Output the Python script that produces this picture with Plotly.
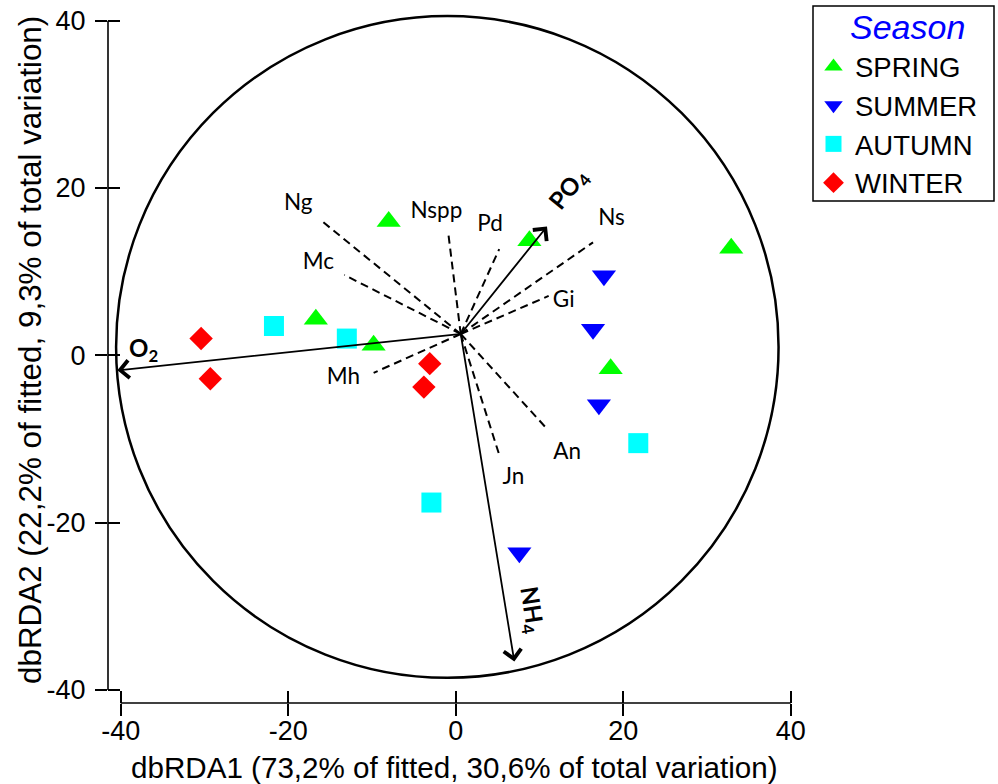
import plotly.graph_objects as go

# ---------------- data ----------------
seasons = ["SPRING", "SUMMER", "AUTUMN", "WINTER"]
spring_x = [-16.7, -9.8, -8.0, 8.8, 18.5, 32.9]
spring_y = [4.3, 1.2, 16.0, 13.7, -1.6, 12.8]
summer_x = [17.7, 16.4, 17.1, 7.6]
summer_y = [9.5, 3.1, -5.9, -23.6]
autumn_x = [-21.7, -13.0, -2.9, 21.8]
autumn_y = [3.5, 2.0, -17.6, -10.5]
winter_x = [-30.4, -29.3, -3.1, -3.8]
winter_y = [2.0, -2.8, -1.0, -3.8]

# species vectors (dashed)
species = ["Ng", "Mc", "Nspp", "Pd", "Ns", "Gi", "Mh", "An", "Jn"]
sp_end_x = [-15.8, -13.3, -0.9, 5.2, 16.4, 11.1, -9.8, 11.0, 5.2]
sp_end_y = [15.9, 9.6, 14.7, 12.7, 13.5, 7.1, -2.1, -8.9, -11.9]
sp_lab_x = [-18.8, -16.4, -2.3, 4.1, 18.6, 12.9, -13.4, 13.3, 6.9]
sp_lab_y = [18.0, 11.0, 17.1, 15.5, 16.3, 6.4, -2.8, -11.7, -14.7]

# environmental vectors (solid arrows)
env_labels = ["O<sub>2</sub>", "PO<sub>4</sub>", "NH<sub>4</sub>"]
env_x = [-40.4, 10.9, 7.0]
env_y = [-1.8, 15.4, -36.6]
env_lab_x = [-37.3, 13.5, 9.0]
env_lab_y = [0.7, 19.8, -30.4]
env_lab_angle = [0, -51, 81]

vec_origin = (0.6, 2.55)
circle_center = (-1.0, 1.0)
circle_radius = 39.55

tick_vals = [-40, -20, 0, 20, 40]
tick_text = ["-40", "-20", "0", "20", "40"]

x_title = "dbRDA1 (73,2% of fitted, 30,6% of total variation)"
y_title = "dbRDA2 (22,2% of fitted, 9,3% of total variation)"
legend_title = "Season"

# ---------------- layout geometry ----------------
W, H = 998, 784
XDOM = [108 / W, 800 / W]
YDOM = [1 - 703 / H, 1 - 10 / H]
XR = [-41.516, 41.110]
YR = [-41.561, 41.274]

AX_FONT = "Liberation Sans, Arial, sans-serif"
LAB_FONT = "Lato, Carlito, Calibri, sans-serif"

fig = go.Figure()

# dashed species lines
lx, ly = [], []
for ex, ey in zip(sp_end_x, sp_end_y):
    lx += [vec_origin[0], ex, None]
    ly += [vec_origin[1], ey, None]
fig.add_trace(go.Scatter(
    x=lx, y=ly, mode="lines", xaxis="x2", yaxis="y2",
    line=dict(color="black", width=2, dash="8px,5px"),
    showlegend=False, hoverinfo="skip"))

fig.add_trace(go.Scatter(
    x=sp_lab_x, y=sp_lab_y, mode="text", text=species,
    textposition="middle center",
    textfont=dict(family=LAB_FONT, size=22.5, color="black"),
    showlegend=False, hoverinfo="skip"))

styles = [
    ("SPRING", spring_x, spring_y, "triangle-up", "#00FF00", 21),
    ("SUMMER", summer_x, summer_y, "triangle-down", "#0000FF", 21),
    ("AUTUMN", autumn_x, autumn_y, "square", "#00FFFF", 20),
    ("WINTER", winter_x, winter_y, "diamond", "#FF0000", 18),
]
for name, xs, ys, sym, col, sz in styles:
    fig.add_trace(go.Scatter(
        x=xs, y=ys, mode="markers", name=name,
        marker=dict(symbol=sym, color=col, size=sz, line=dict(width=0))))

# circle
fig.add_shape(type="circle", xref="x", yref="y",
              x0=circle_center[0] - circle_radius, x1=circle_center[0] + circle_radius,
              y0=circle_center[1] - circle_radius, y1=circle_center[1] + circle_radius,
              line=dict(color="black", width=2.5), layer="below")

# axis lines
fig.add_shape(type="line", xref="x", yref="y domain", x0=tick_vals[0], x1=tick_vals[-1],
              y0=0, y1=0, line=dict(color="black", width=1.6))
fig.add_shape(type="line", xref="x domain", yref="y", x0=0, x1=0,
              y0=tick_vals[0], y1=tick_vals[-1], line=dict(color="black", width=1.6))

# legend frame
fig.add_shape(type="rect", xref="paper", yref="paper",
              x0=813 / W, x1=994 / W, y0=1 - 201 / H, y1=1 - 6 / H,
              line=dict(color="black", width=1.5), fillcolor="rgba(0,0,0,0)", layer="above")

annotations = []
for lab, ex, ey, tx, ty, ang in zip(env_labels, env_x, env_y, env_lab_x, env_lab_y, env_lab_angle):
    annotations.append(dict(
        x=ex, y=ey, xref="x", yref="y", ax=vec_origin[0], ay=vec_origin[1],
        axref="x", ayref="y", text="", showarrow=True, arrowhead=4,
        arrowsize=1.9, arrowwidth=1.8, arrowcolor="black", standoff=0, startstandoff=0))
    annotations.append(dict(
        x=tx, y=ty, xref="x", yref="y", text="<b>" + lab + "</b>", showarrow=False,
        textangle=ang, font=dict(family=LAB_FONT, size=24, color="black")))

annotations.append(dict(x=453.7 / W, y=1 - 767 / H, xref="paper", yref="paper",
                        text=x_title, showarrow=False, xanchor="center", yanchor="middle",
                        font=dict(family=AX_FONT, size=29.6, color="black")))
annotations.append(dict(x=30 / W, y=1 - 350 / H, xref="paper", yref="paper",
                        text=y_title, showarrow=False, xanchor="center", yanchor="middle",
                        textangle=-90,
                        font=dict(family=AX_FONT, size=31.4, color="black")))
annotations.append(dict(x=907 / W, y=1 - 27 / H, xref="paper", yref="paper",
                        text="<i>" + legend_title + "</i>", showarrow=False,
                        xanchor="center", yanchor="middle",
                        font=dict(family=AX_FONT, size=34, color="#0000FF")))

axis_common = dict(showgrid=False, zeroline=False, showline=False, automargin=False,
                   tickmode="array", tickvals=tick_vals, ticktext=tick_text,
                   ticklen=12, tickwidth=1.6, tickcolor="black")

fig.update_layout(
    width=W, height=H, autosize=False,
    margin=dict(l=0, r=0, t=0, b=0, pad=0),
    paper_bgcolor="white", plot_bgcolor="white",
    xaxis=dict(domain=XDOM, range=XR, ticks="outside", anchor="y", ticklabelstandoff=-8,
               tickfont=dict(family=AX_FONT, size=27, color="black"), **axis_common),
    yaxis=dict(domain=YDOM, range=YR, ticks="outside", anchor="x", ticklabelstandoff=4,
               tickfont=dict(family=AX_FONT, size=27, color="black"), **axis_common),
    xaxis2=dict(range=XR, overlaying="x", anchor="y2", side="bottom", ticks="inside",
                showticklabels=False, **axis_common),
    yaxis2=dict(range=YR, overlaying="y", anchor="x2", side="left", ticks="inside",
                showticklabels=False, **axis_common),
    annotations=annotations,
    showlegend=True,
    legend=dict(
        x=812 / W, y=1 - 42 / H, xanchor="left", yanchor="top",
        borderwidth=0, bgcolor="rgba(0,0,0,0)",
        itemwidth=33,
        font=dict(family=AX_FONT, size=27.5, color="black"),
        tracegroupgap=0,
    ),
)

fig.write_html("out.html", config={"displayModeBar": False},
               post_script="document.body.style.margin='0';")
